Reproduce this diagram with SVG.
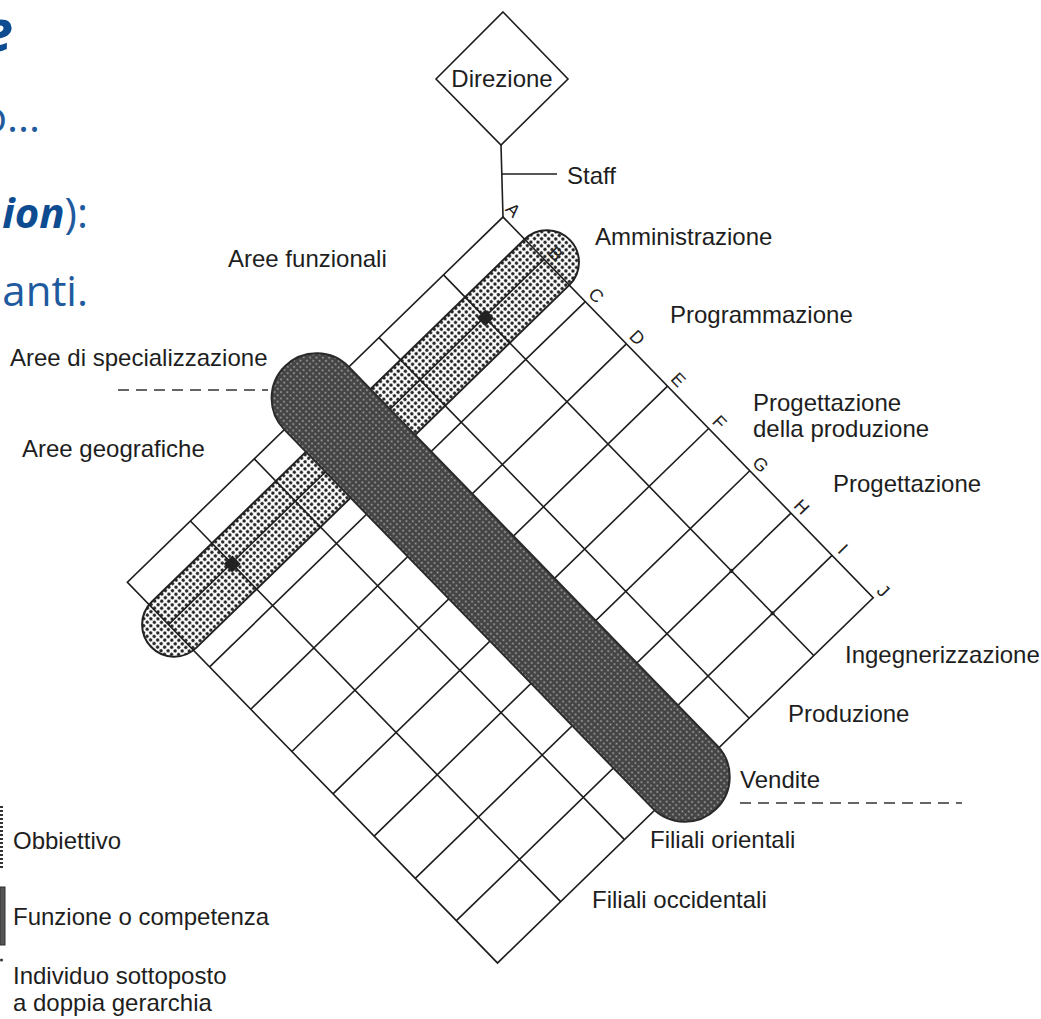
<svg xmlns="http://www.w3.org/2000/svg" width="1041" height="1019" viewBox="0 0 1041 1019">
<defs>
<pattern id="dotsLight" width="5" height="5" patternUnits="userSpaceOnUse">
<rect width="5" height="5" fill="#fff"/>
<circle cx="2.5" cy="2.5" r="1.7" fill="#222"/>
</pattern>
<pattern id="dotsDark" width="4.5" height="4.5" patternUnits="userSpaceOnUse">
<rect width="4.5" height="4.5" fill="#444"/>
<circle cx="2.25" cy="2.25" r="1" fill="#a8a8a8"/>
</pattern>
<style>
.lbl{font-family:"Liberation Sans",Arial,sans-serif;font-size:24px;fill:#1e1e1e}
.let{font-family:"Liberation Sans",Arial,sans-serif;font-size:18px;fill:#222;text-anchor:middle}
.grid{stroke:#1e1e1e;stroke-width:1.6;fill:none}
.dash{stroke:#333;stroke-width:1.6;stroke-dasharray:11 7;fill:none}
.conn{stroke:#1e1e1e;stroke-width:1.6;fill:none}
.ttl{font-family:"Open Sans","Noto Sans",sans-serif;text-anchor:end}
.bi{font-weight:bold;font-style:italic;fill:#0e4c92}
.rg{fill:#1f5a9e}
</style>
</defs>
<rect width="1041" height="1019" fill="#fff"/>

<g id="title">
<text class="ttl bi" x="13" y="51" font-size="58">e</text>
<text class="ttl rg" x="40" y="132" font-size="42">o...</text>
<text class="ttl" x="88" y="228" font-size="42"><tspan class="bi">ion</tspan><tspan class="rg">):</tspan></text>
<text class="ttl rg" x="88" y="306" font-size="42">anti.</text>
</g>

<g id="connectors">
<line class="conn" x1="501" y1="145" x2="503" y2="217"/>
<line class="conn" x1="502" y1="174" x2="557" y2="174"/>
<line class="dash" x1="118" y1="390" x2="268" y2="390"/>
<line class="dash" x1="740" y1="803" x2="962" y2="803"/>
</g>

<g id="direzione">
<polygon points="503,12 568,79 501,145 436,79" fill="#fff" stroke="#1e1e1e" stroke-width="1.6"/>
<text class="lbl" x="502" y="87" text-anchor="middle">Direzione</text>
</g>

<g id="staff"><text class="lbl" x="567" y="184">Staff</text></g>

<g id="matrix" transform="translate(503,217) rotate(45.8)">
<rect id="obbiettivo-pill" x="31" y="-32" width="64" height="584" rx="32" fill="url(#dotsLight)" stroke="#222" stroke-width="2"/>
<rect class="grid" x="0" y="0" width="531" height="524"/>
<path class="grid" d="M59,0V524M118,0V524M177,0V524M236,0V524M295,0V524M354,0V524M413,0V524M472,0V524M0,83H531M0,173H531M0,260H531M0,347H531M0,436H531"/>
<rect x="54" y="77" width="12" height="12" fill="#222"/>
<rect x="54" y="430" width="12" height="12" fill="#222"/>
<circle cx="413" cy="83" r="2" fill="#222"/>
<circle cx="472" cy="83" r="2" fill="#222"/>
<rect id="funzione-pill" x="-45" y="215" width="618" height="90" rx="45" fill="url(#dotsDark)" stroke="#2a2a2a" stroke-width="2"/>
<g id="letters">
<text class="let" x="2" y="-6">A</text>
<text class="let" x="63" y="-6">B</text>
<text class="let" x="121" y="-6">C</text>
<text class="let" x="180" y="-6">D</text>
<text class="let" x="239" y="-6">E</text>
<text class="let" x="298" y="-6">F</text>
<text class="let" x="357" y="-6">G</text>
<text class="let" x="416" y="-6">H</text>
<text class="let" x="475" y="-6">I</text>
<text class="let" x="533" y="-6">J</text>
</g>
</g>

<g id="left-labels">
<text class="lbl" x="228" y="267">Aree funzionali</text>
<text class="lbl" x="10" y="366">Aree di specializzazione</text>
<text class="lbl" x="22" y="457">Aree geografiche</text>
</g>

<g id="right-labels">
<text class="lbl" x="595" y="245">Amministrazione</text>
<text class="lbl" x="670" y="323">Programmazione</text>
<text class="lbl" x="753" y="411">Progettazione</text>
<text class="lbl" x="753" y="437">della produzione</text>
<text class="lbl" x="833" y="492">Progettazione</text>
<text class="lbl" x="845" y="663">Ingegnerizzazione</text>
<text class="lbl" x="788" y="722">Produzione</text>
<text class="lbl" x="740" y="788">Vendite</text>
<text class="lbl" x="650" y="848">Filiali orientali</text>
<text class="lbl" x="592" y="908">Filiali occidentali</text>
</g>

<g id="legend">
<line x1="1.5" y1="806" x2="1.5" y2="870" stroke="#333" stroke-width="3" stroke-dasharray="2 2"/>
<rect x="0" y="887" width="5" height="58" fill="#555" stroke="#333" stroke-width="1"/>
<circle cx="1.5" cy="960" r="1.5" fill="#333"/>
<text class="lbl" x="13" y="849">Obbiettivo</text>
<text class="lbl" x="13" y="925">Funzione o competenza</text>
<text class="lbl" x="13" y="984">Individuo sottoposto</text>
<text class="lbl" x="13" y="1011">a doppia gerarchia</text>
</g>
</svg>
